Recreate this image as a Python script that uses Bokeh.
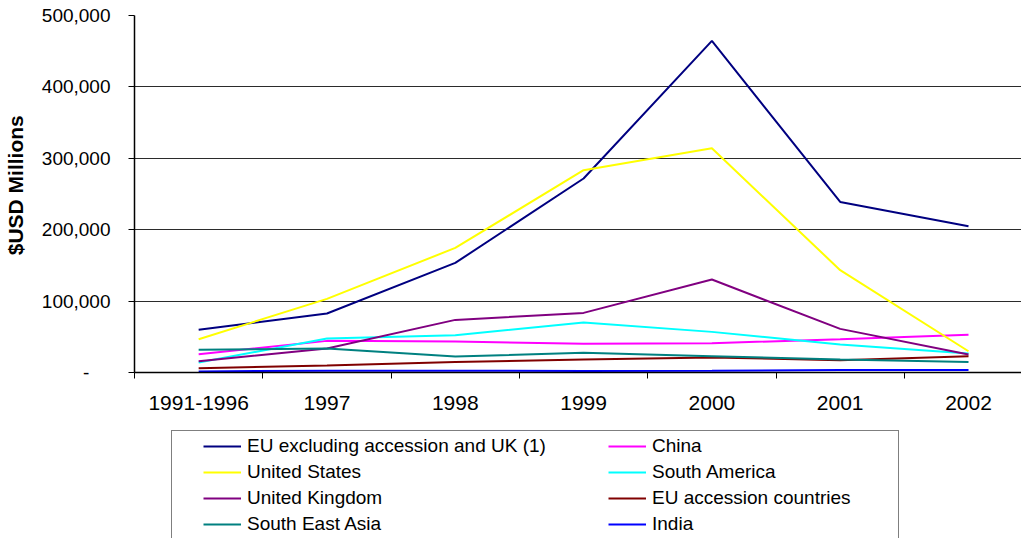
from bokeh.plotting import figure
from bokeh.layouts import column
from bokeh.models import Range1d, FixedTicker, Legend, LegendItem, NumeralTickFormatter
from bokeh.embed import file_html
from bokeh.resources import INLINE

# Foreign direct investment outflows by destination, $USD millions
categories = ["1991-1996", "1997", "1998", "1999", "2000", "2001", "2002"]
eu_excl = [60000, 82600, 153500, 271700, 464400, 238900, 204900]
china = [25600, 44300, 43400, 40100, 41000, 46600, 52700]
united_states = [46600, 103100, 174500, 283300, 314100, 143300, 29800]
south_america = [14000, 47600, 52200, 70000, 56900, 39200, 26600]
united_kingdom = [15800, 33600, 73700, 83500, 130200, 61100, 25200]
eu_accession = [6000, 9800, 14800, 18200, 21000, 17200, 22800]
south_east_asia = [31700, 33600, 22400, 27500, 22800, 18200, 14800]
india = [1500, 2500, 2500, 2000, 2500, 3500, 3500]
y_ticks = [0, 100000, 200000, 300000, 400000, 500000]

series = [
    ("EU excluding accession and UK (1)", eu_excl, "#000080"),
    ("China", china, "#FF00FF"),
    ("United States", united_states, "#FFFF00"),
    ("South America", south_america, "#00FFFF"),
    ("United Kingdom", united_kingdom, "#800080"),
    ("EU accession countries", eu_accession, "#800000"),
    ("South East Asia", south_east_asia, "#008080"),
    ("India", india, "#0000FF"),
]
colors = {name: color for name, _, color in series}

FONT = "Liberation Sans"
LEFT = 134
NBSP = "\u00a0"
xs = list(range(len(categories)))

# ---- main chart ----
p = figure(width=1021, height=420, output_backend="svg", toolbar_location=None,
           x_range=Range1d(-0.5, 6.413), y_range=Range1d(0, 500000),
           min_border_left=LEFT, min_border_right=0, min_border_top=15,
           min_border_bottom=48)
p.outline_line_color = None

for name, vals, color in series:
    p.line(xs, vals, line_color=color, line_width=2)

# x axis: labels at category centres, tick marks between categories
xa = p.xaxis[0]
xa.ticker = FixedTicker(ticks=xs, minor_ticks=[i - 0.5 for i in range(len(categories) + 1)])
xa.major_label_overrides = {i: c for i, c in enumerate(categories)}
xa.major_tick_out = 0
xa.major_tick_in = 0
xa.minor_tick_out = 6
xa.minor_tick_in = 0
xa.minor_tick_line_color = "black"
xa.axis_line_color = "black"
xa.axis_line_width = 1.5
xa.major_label_text_font = FONT
xa.major_label_text_font_size = "21px"
xa.major_label_text_color = "black"
xa.major_label_standoff = 17

ya = p.yaxis[0]
ya.ticker = FixedTicker(ticks=y_ticks, minor_ticks=[])
ya.formatter = NumeralTickFormatter(format="0,0")
ya.major_label_overrides = {0: "-" + NBSP * 4}
ya.major_tick_out = 6
ya.major_tick_in = 0
ya.major_tick_line_color = "black"
ya.axis_line_color = "black"
ya.axis_line_width = 1.5
ya.major_label_text_font = FONT
ya.major_label_text_font_size = "19px"
ya.major_label_text_color = "black"
ya.major_label_standoff = 18
ya.axis_label = NBSP * 3 + "$USD Millions"
ya.axis_label_text_font = FONT
ya.axis_label_text_font_size = "21px"
ya.axis_label_text_font_style = "bold"
ya.axis_label_text_color = "black"
ya.axis_label_standoff = 12

p.xgrid.visible = False
p.ygrid.ticker = FixedTicker(ticks=y_ticks)
p.ygrid.grid_line_color = "#2b2b2b"
p.ygrid.grid_line_width = 1

# ---- legend strip (frame aligned with the chart frame above) ----
lg = figure(width=1021, height=118, output_backend="svg", toolbar_location=None,
            x_range=Range1d(0, 1021 - LEFT), y_range=Range1d(0, 118),
            min_border_left=LEFT, min_border_right=0, min_border_top=0,
            min_border_bottom=0)
lg.axis.visible = False
lg.grid.visible = False
lg.outline_line_color = None

# key lines live outside the visible range; only their legend glyphs show
keys = {name: lg.line([-50, -40], [-50, -50], line_color=color, line_width=2)
        for name, color in colors.items()}
blank = lg.line([-50, -40], [-50, -50], line_alpha=0)

frame_legend = Legend(items=[LegendItem(label=" ", renderers=[blank])],
                      location=(171 - LEFT, -20), padding=0, margin=0, spacing=0,
                      glyph_width=1, glyph_height=126, label_height=126,
                      label_width=725, label_standoff=0,
                      border_line_color="black", border_line_width=1,
                      background_fill_color="white", background_fill_alpha=1,
                      label_text_font_size="1px", label_text_alpha=0)
lg.add_layout(frame_legend, "center")

col1 = ["EU excluding accession and UK (1)", "United States", "United Kingdom", "South East Asia"]
col2 = ["China", "South America", "EU accession countries", "India"]
for names, xloc in ((col1, 203 - LEFT), (col2, 608 - LEFT)):
    leg = Legend(items=[LegendItem(label=n, renderers=[keys[n]]) for n in names],
                 location=(xloc, 1), padding=0, margin=0, spacing=0,
                 glyph_width=38, glyph_height=26, label_height=26, label_standoff=6,
                 border_line_alpha=0, background_fill_alpha=0,
                 label_text_font=FONT, label_text_font_size="19px",
                 label_text_color="black")
    lg.add_layout(leg, "center")

open("out.html", "w").write(file_html(column(p, lg, spacing=0), INLINE))
